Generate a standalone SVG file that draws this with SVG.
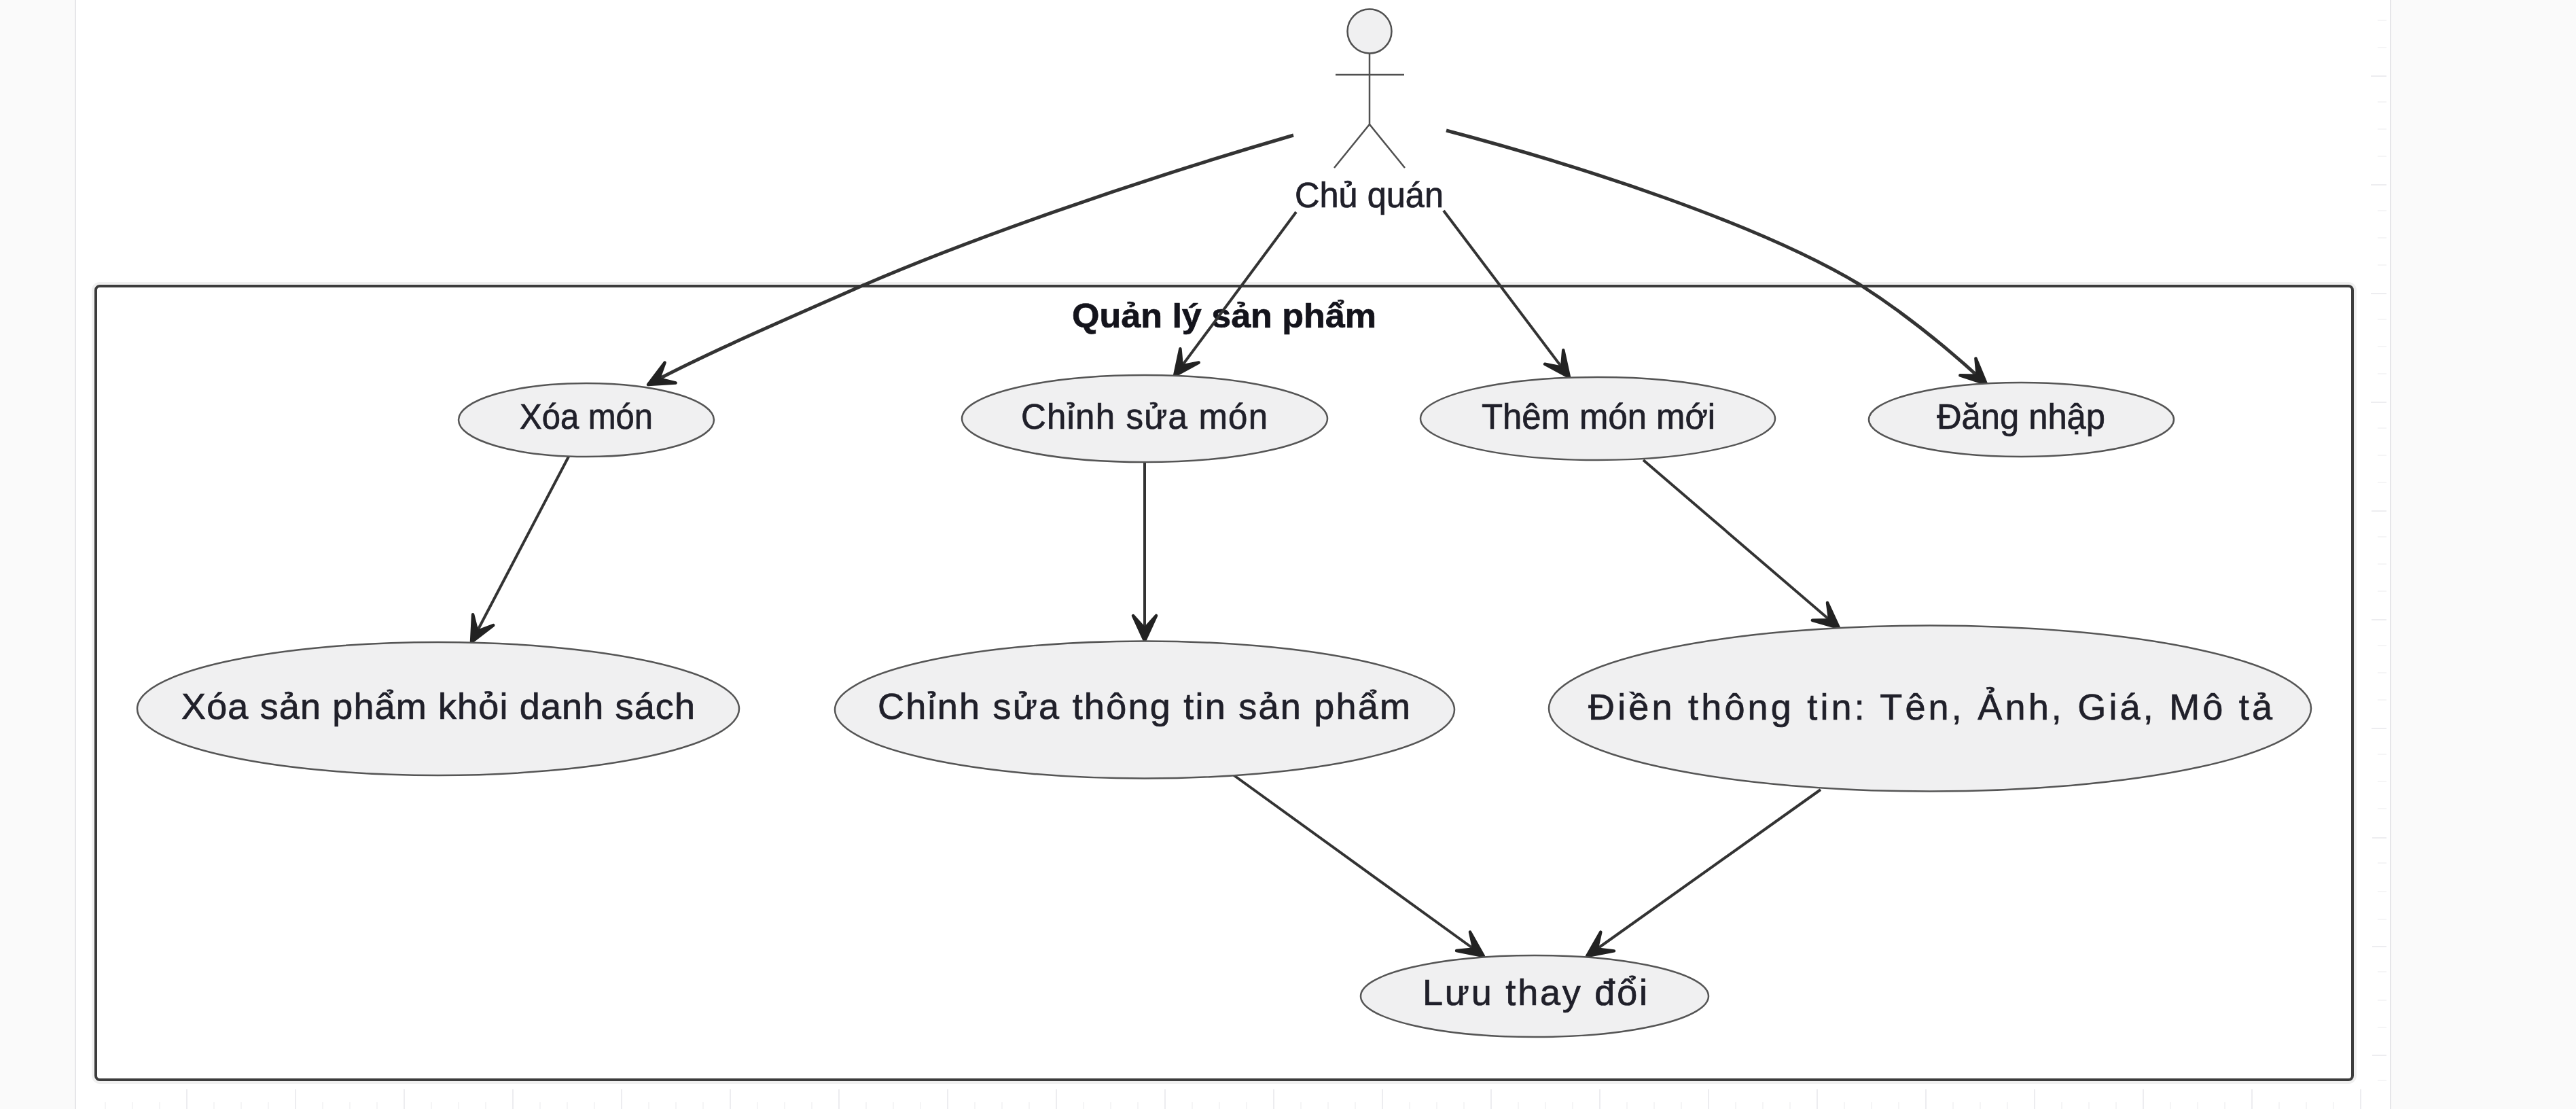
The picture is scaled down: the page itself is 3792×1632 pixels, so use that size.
<svg xmlns="http://www.w3.org/2000/svg" width="3792" height="1632" viewBox="0 0 3792 1632">
<style>
.uc{fill:#f0f0f1;stroke:#555;stroke-width:2.5}
.lb{font-family:"Liberation Sans",Arial,sans-serif;font-size:54px;fill:#20202a;stroke:#20202a;stroke-width:.7}
.sm{font-size:51px}
.tt{font-weight:bold;font-size:50px;fill:#14141c;stroke:#14141c}
.fig{fill:none;stroke:#505050;stroke-width:2.5}
.cn{fill:none;stroke:#333;stroke-width:4;marker-end:url(#arr)}
.wide{stroke-width:5}
.maj{fill:none;stroke:#e8e8eb;stroke-width:1.5}
.min{fill:none;stroke:#f2f2f4;stroke-width:1.5}
</style>
<defs>
<marker id="arr" markerUnits="userSpaceOnUse" viewBox="-42 -22 46 44" refX="0" refY="0" markerWidth="46" markerHeight="44" orient="auto" overflow="visible">
<path d="M-37,-17 L0,0 L-37,17 L-18,0 Z" fill="#222" stroke="#222" stroke-width="4.5" stroke-linejoin="round"/>
</marker>
</defs>
<rect width="3792" height="1632" fill="#fafafa"/>
<g id="page">
<rect x="111" y="-2" width="3408" height="1636" fill="#fff" stroke="#e6e6e9" stroke-width="2"/>
<path class="maj" d="M3490,112H3513M3490,272H3513M3490,432H3513M3490,592H3513M3491,752H3513M3491,912H3513M3491,1072H3513M3492,1233H3513M3492,1393H3513M3492,1553H3513"/>
<path class="min" d="M3500,30H3513M3500,70H3513M3500,150H3513M3500,190H3513M3500,230H3513M3500,310H3513M3500,350H3513M3500,390H3513M3500,470H3513M3500,510H3513M3500,550H3513M3500,630H3513M3500,670H3513M3500,710H3513M3500,790H3513M3500,830H3513M3500,870H3513M3500,950H3513M3500,990H3513M3500,1030H3513M3500,1110H3513M3500,1150H3513M3500,1190H3513M3500,1270H3513M3500,1312H3513M3500,1353H3513M3500,1430H3513M3500,1472H3513M3500,1512H3513M3500,1590H3513"/>
<path class="maj" d="M275,1603V1632M435,1603V1632M595,1603V1632M755,1603V1632M915,1603V1632M1075,1603V1632M1235,1603V1632M1395,1603V1632M1555,1603V1632M1715,1603V1632M1875,1603V1632M2035,1603V1632M2195,1603V1632M2355,1603V1632M2515,1603V1632M2675,1603V1632M2835,1603V1632M2995,1603V1632M3155,1603V1632M3315,1603V1632M3475,1603V1632"/>
<path class="min" d="M155,1622V1632M195,1622V1632M235,1622V1632M315,1622V1632M355,1622V1632M395,1622V1632M475,1622V1632M515,1622V1632M555,1622V1632M635,1622V1632M675,1622V1632M715,1622V1632M795,1622V1632M835,1622V1632M875,1622V1632M955,1622V1632M995,1622V1632M1035,1622V1632M1115,1622V1632M1155,1622V1632M1195,1622V1632M1275,1622V1632M1315,1622V1632M1355,1622V1632M1435,1622V1632M1475,1622V1632M1515,1622V1632M1595,1622V1632M1635,1622V1632M1675,1622V1632M1755,1622V1632M1795,1622V1632M1835,1622V1632M1915,1622V1632M1955,1622V1632M1995,1622V1632M2075,1622V1632M2115,1622V1632M2155,1622V1632M2235,1622V1632M2275,1622V1632M2315,1622V1632M2395,1622V1632M2435,1622V1632M2475,1622V1632M2555,1622V1632M2595,1622V1632M2635,1622V1632M2715,1622V1632M2755,1622V1632M2795,1622V1632M2875,1622V1632M2915,1622V1632M2955,1622V1632M3035,1622V1632M3075,1622V1632M3115,1622V1632M3195,1622V1632M3235,1622V1632M3275,1622V1632M3355,1622V1632M3395,1622V1632M3435,1622V1632"/>
</g>
<g id="container">
<rect x="141" y="421" width="3322" height="1168" rx="6" fill="none" stroke="#f0f0f0" stroke-width="12"/>
<rect x="141" y="421" width="3322" height="1168" rx="6" fill="#fff" stroke="#3c3c3c" stroke-width="4"/>
<text class="lb tt" x="1578" y="482" textLength="448" lengthAdjust="spacingAndGlyphs">Quản lý sản phẩm</text>
</g>
<g id="connectors">
<path class="cn wide" d="M1904,199C1660,270 1420,355 1268,421C1150,473 1040,520 954,566"/>
<path class="cn" d="M1908,312L1729,553"/>
<path class="cn" d="M2125,310L2310,555"/>
<path class="cn wide" d="M2129,192C2330,245 2590,330 2738,419C2810,465 2870,515 2924,565"/>
<path class="cn" d="M837,672L694,945"/>
<path class="cn" d="M1685,680L1685,943"/>
<path class="cn" d="M2419,677L2707,924"/>
<path class="cn" d="M1815,1140L2184,1407"/>
<path class="cn" d="M2680,1162L2336,1407"/>
</g>
<g id="actor-chu-quan">
<circle cx="2016" cy="46" r="32.5" fill="#f0f0f1" stroke="#505050" stroke-width="2.5"/>
<path class="fig" d="M2016,79V183M1966,110H2067M1964,247L2016,183L2068,247"/>
<text class="lb sm" x="1906" y="305" textLength="219" lengthAdjust="spacingAndGlyphs">Chủ quán</text>
</g>
<g id="uc-xoa-mon">
<ellipse class="uc" cx="863" cy="618" rx="188" ry="54"/>
<text class="lb sm" x="765" y="631" textLength="196" lengthAdjust="spacingAndGlyphs">Xóa món</text>
</g>
<g id="uc-chinh-sua-mon">
<ellipse class="uc" cx="1685" cy="616" rx="269" ry="64"/>
<text class="lb sm" x="1503" y="631" textLength="363" lengthAdjust="spacing">Chỉnh sửa món</text>
</g>
<g id="uc-them-mon-moi">
<ellipse class="uc" cx="2352" cy="616" rx="261" ry="61"/>
<text class="lb sm" x="2181" y="631" textLength="344" lengthAdjust="spacingAndGlyphs">Thêm món mới</text>
</g>
<g id="uc-dang-nhap">
<ellipse class="uc" cx="2975.5" cy="617.5" rx="224.5" ry="54.5"/>
<text class="lb sm" x="2851" y="631" textLength="248" lengthAdjust="spacingAndGlyphs">Đăng nhập</text>
</g>
<g id="uc-xoa-san-pham">
<ellipse class="uc" cx="645" cy="1043" rx="443" ry="98"/>
<text class="lb" x="267" y="1058" textLength="756" lengthAdjust="spacing">Xóa sản phẩm khỏi danh sách</text>
</g>
<g id="uc-chinh-sua-thong-tin">
<ellipse class="uc" cx="1685" cy="1044.5" rx="456" ry="101"/>
<text class="lb" x="1292" y="1058" textLength="784" lengthAdjust="spacing">Chỉnh sửa thông tin sản phẩm</text>
</g>
<g id="uc-dien-thong-tin">
<ellipse class="uc" cx="2841" cy="1042.5" rx="561" ry="122"/>
<text class="lb" x="2338" y="1059" textLength="1007" lengthAdjust="spacing">Điền thông tin: Tên, Ảnh, Giá, Mô tả</text>
</g>
<g id="uc-luu-thay-doi">
<ellipse class="uc" cx="2259" cy="1466" rx="256" ry="60"/>
<text class="lb" x="2094" y="1479" textLength="331" lengthAdjust="spacing">Lưu thay đổi</text>
</g>
</svg>
